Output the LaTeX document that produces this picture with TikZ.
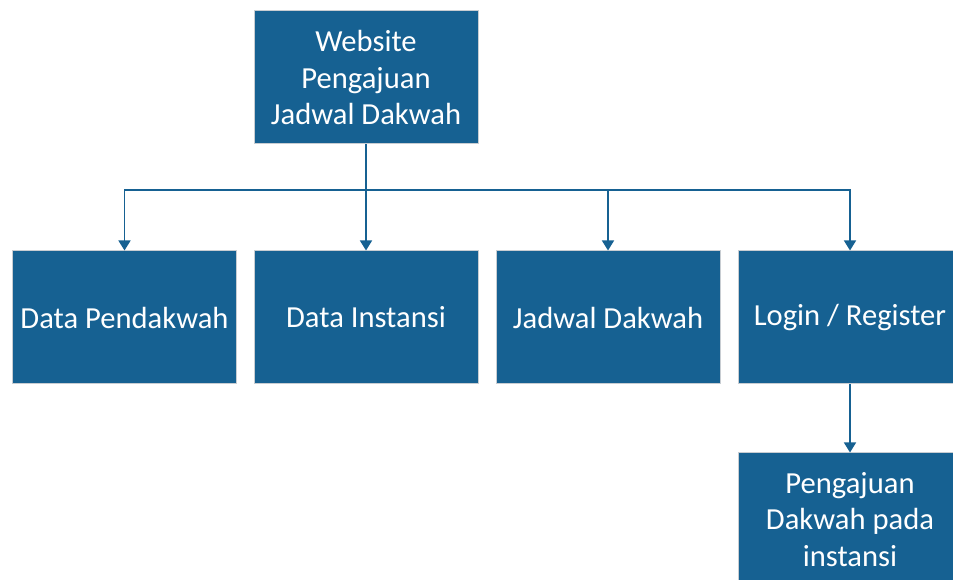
\documentclass[tikz,border=0pt]{standalone}
\usepackage{fontspec}
\setmainfont{Carlito}
\usetikzlibrary{arrows.meta}
\definecolor{boxblue}{RGB}{22,97,146}
\definecolor{boxline}{RGB}{200,205,210}

\begin{document}
\begin{tikzpicture}[x=1pt,y=1pt,auto]
            \useasboundingbox (0,0) rectangle (953,580);
            \clip (0,0) rectangle (953,580);
            \begin{scope}[every node/.style={rectangle,draw=boxline,line width=1pt,fill=boxblue,text=white,align=center,minimum width=224pt,minimum height=133pt,inner sep=0pt,font=\fontsize{30.6}{36.5}\selectfont}]
                \node (web) at (366,502.5) {Website\\Pengajuan\\Jadwal Dakwah};
                \node (pd) at (124.5,262.5) {Data Pendakwah};
                \node (di) at (366,262.5) {Data Instansi};
                \node (jd) at (608,262.5) {Jadwal Dakwah};
                \node (lr) at (850,262.5) {Login / Register};
                \node (pdi) at (850,60.5) {Pengajuan\\Dakwah pada\\instansi};
            \end{scope}
            \coordinate (bus) at (366,390);
            \begin{scope}[draw=boxblue,line width=1.5pt,-{Triangle[width=12pt,length=10pt]}]
                \draw (web.south) -- (bus) -| (pd.north);
                \draw (web.south) -- (bus) -| (di.north);
                \draw (web.south) -- (bus) -| (jd.north);
                \draw (web.south) -- (bus) -| (lr.north);
                \draw (lr.south) -- (pdi.north);
            \end{scope}
        \end{tikzpicture}
\end{document}
